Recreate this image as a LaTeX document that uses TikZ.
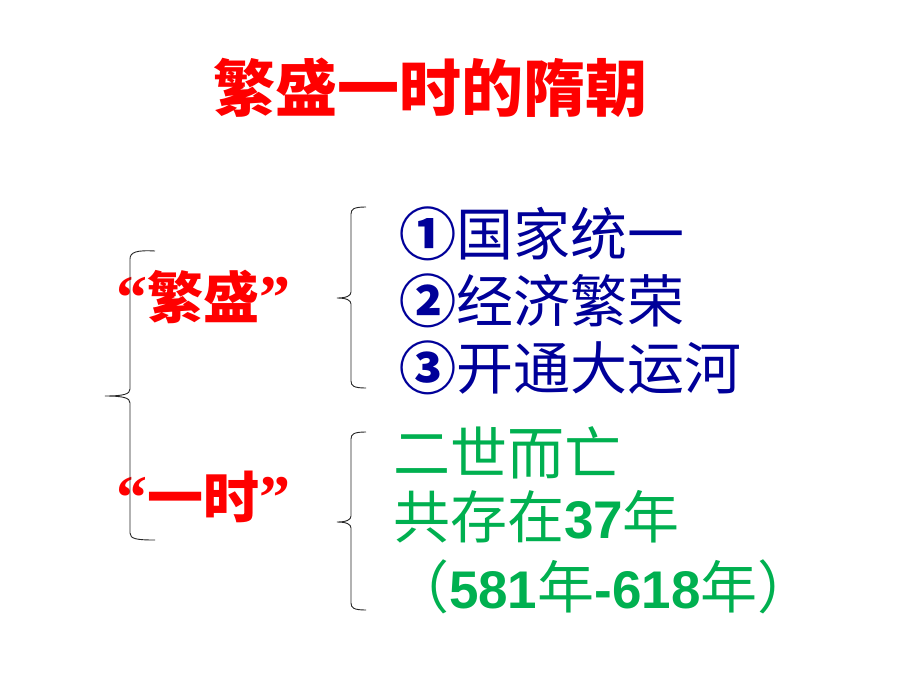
\documentclass[tikz,border=0pt]{standalone}
\usepackage{fontspec}
\newfontfamily\cjk{Noto Sans CJK SC}
\newfontfamily\latb{Liberation Sans}
\newfontfamily\qserif{Liberation Serif}
\definecolor{titlered}{RGB}{255,0,0}
\definecolor{navyblue}{RGB}{0,0,153}
\definecolor{pptgreen}{RGB}{0,176,80}
\begin{document}
\begin{tikzpicture}[x=1pt,y=-1pt,every node/.style={inner sep=0pt,outer sep=0pt}]
\tikzset{
  titletext/.style={text=titlered,font=\cjk\bfseries\fontsize{62}{62}\selectfont,anchor=base},
  redlabel/.style={text=titlered,font=\cjk\bfseries\fontsize{56}{56}\selectfont,anchor=base west},
  blueitem/.style={text=navyblue,font=\cjk\fontsize{57}{57}\selectfont,anchor=base west},
  greennote/.style={text=pptgreen,font=\cjk\fontsize{57}{57}\selectfont,anchor=base west},
  bracestroke/.style={draw=black!85,line width=0.9pt},
}
\newcommand{\dg}[1]{{\latb\bfseries\fontsize{53}{53}\selectfont #1}}
\newcommand{\qt}[1]{{\qserif\bfseries\fontsize{62}{62}\selectfont #1}}
\newcommand{\cn}[1]{{\bfseries #1}}
\useasboundingbox[fill=white] (0,0) rectangle (920,690);

% title
\node[titletext] (title) at (430,112) {繁盛一时的隋朝};

% left labels
\node[redlabel] (fansheng) at (116,318) {\qt{“}繁盛\qt{”}};
\node[redlabel] (yishi) at (116,518) {\qt{“}一时\qt{”}};

% blue items
\node[blueitem] (item1) at (399,255) {\cn{①}国家统一};
\node[blueitem] (item2) at (399,322) {\cn{②}经济繁荣};
\node[blueitem] (item3) at (399,389) {\cn{③}开通大运河};

% green notes
\node[greennote] (note1) at (393,474) {二世而亡};
\node[greennote] (note2) at (393,538) {共存在\dg{37}年};
\node[greennote] (note3) at (392,608) {（\dg{581}年\dg{-618}年）};

% left brace
\draw[bracestroke] (155,251) .. controls (137,250) and (130,252) .. (130,259)
  -- (130,389) .. controls (130,394) and (124,396) .. (105,396)
  .. controls (124,396) and (130,398) .. (130,403)
  -- (130,533) .. controls (130,539) and (137,540) .. (155,540);

% right brace 1
\draw[bracestroke] (366,207) .. controls (354,207) and (351,209) .. (351,214)
  -- (351,292) .. controls (351,296) and (346,298) .. (337,298)
  .. controls (346,298) and (351,300) .. (351,304)
  -- (351,381) .. controls (351,386) and (354,388) .. (366,388);

% right brace 2
\draw[bracestroke] (366,432) .. controls (354,432) and (351,434) .. (351,439)
  -- (351,516) .. controls (351,520) and (346,522) .. (337,522)
  .. controls (346,522) and (351,524) .. (351,528)
  -- (351,603) .. controls (351,608) and (354,610) .. (366,610);
\end{tikzpicture}
\end{document}
